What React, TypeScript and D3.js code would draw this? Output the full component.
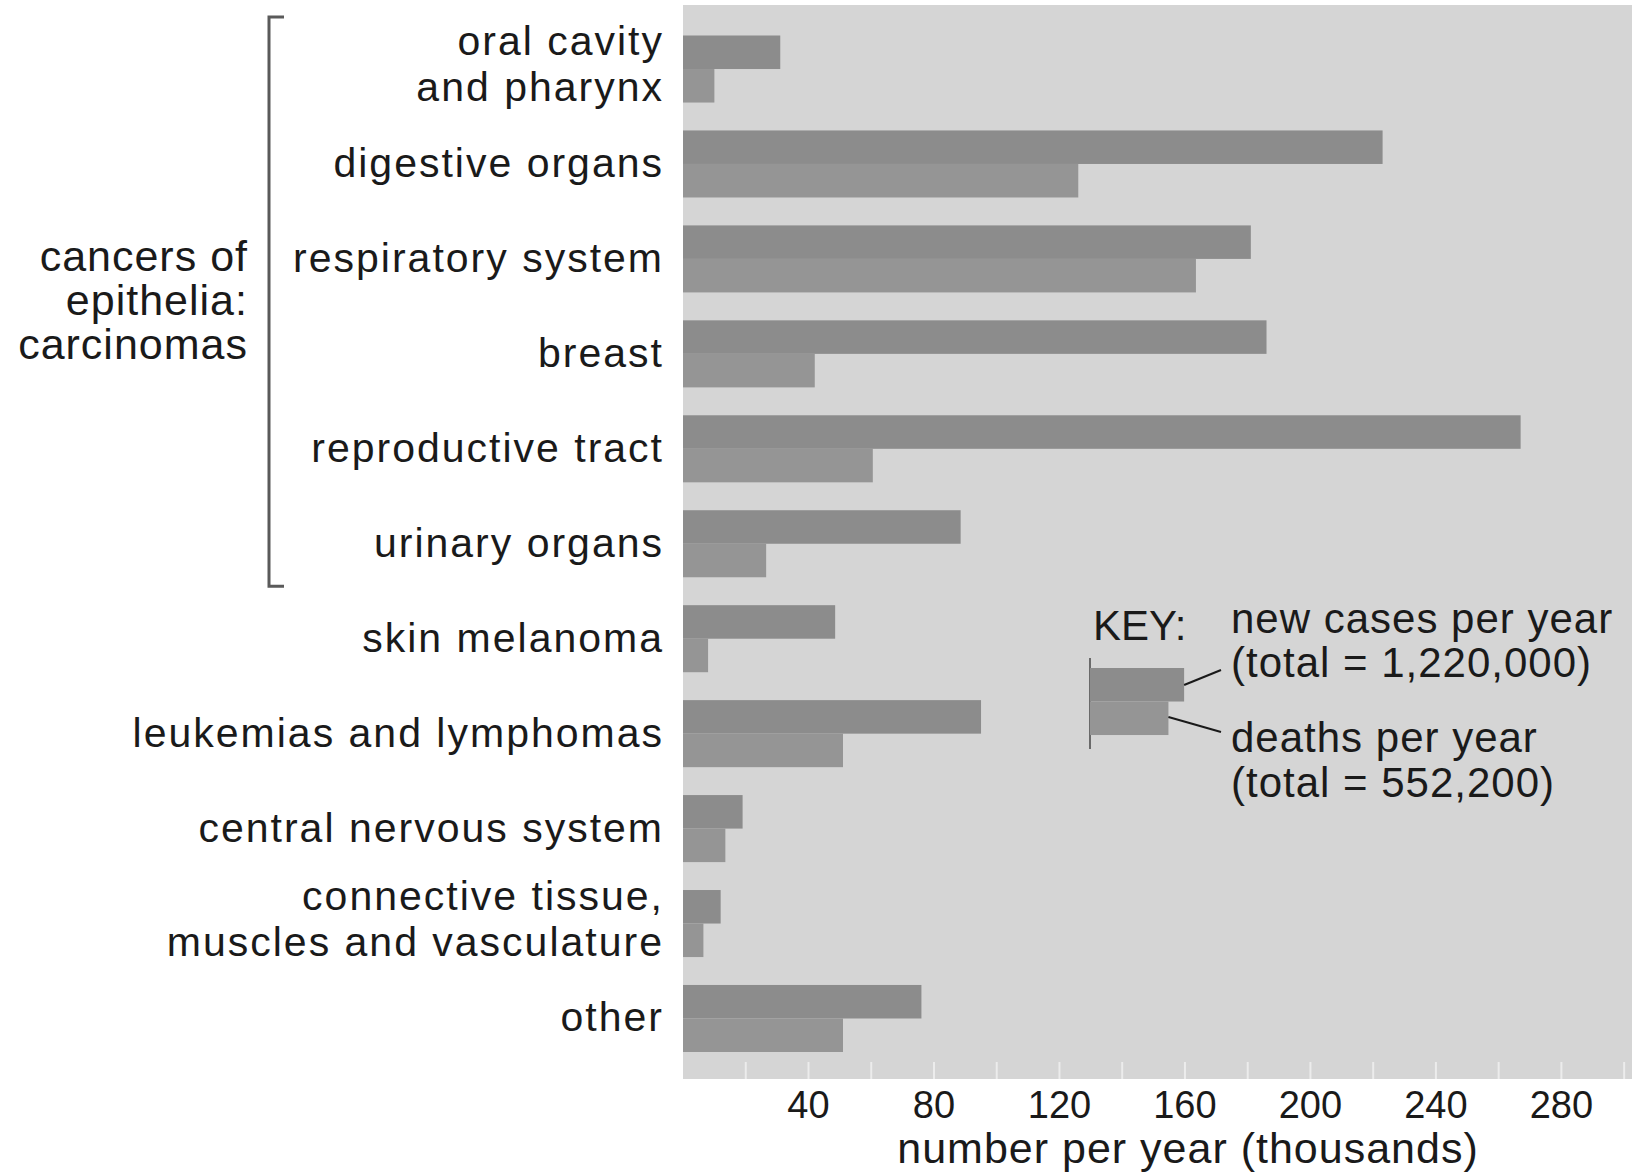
import React from 'react';
import * as d3 from 'd3';

// categories, top to bottom
const categories = [
  'oral cavity\nand pharynx',
  'digestive organs',
  'respiratory system',
  'breast',
  'reproductive tract',
  'urinary organs',
  'skin melanoma',
  'leukemias and lymphomas',
  'central nervous system',
  'connective tissue,\nmuscles and vasculature',
  'other',
];

// thousands per year
const newCases = [31, 223, 181, 186, 267, 88.5, 48.5, 95, 19, 12, 76];
const deaths = [10, 126, 163.5, 42, 60.5, 26.5, 8, 51, 13.5, 6.5, 51];

const seriesKeys = ['new', 'deaths'];
const tickValues = [40, 80, 120, 160, 200, 240, 280];
const minorTicks = [20, 40, 60, 80, 100, 120, 140, 160, 180, 200, 220, 240, 260, 280, 300];

const groupLabel = ['cancers of', 'epithelia:', 'carcinomas'];
const legendLines = ['new cases per year', '(total = 1,220,000)', 'deaths per year', '(total = 552,200)'];

const W = 1632, H = 1176;
const FONT = '"Liberation Sans", Arial, sans-serif';
const INK = '#1a1a1a';

export default function App() {
  const panel = { left: 683, top: 5, right: W, bottom: 1079 };

  const x = d3.scaleLinear().domain([0, 302.5]).range([panel.left, panel.right]);
  const y = d3.scaleBand().domain(categories).range([35.5, 1052]).paddingInner(0.294).paddingOuter(0);
  const sub = d3.scaleBand().domain(seriesKeys).range([0, y.bandwidth()]);
  const fill = d3.scaleOrdinal().domain(seriesKeys).range(['#8c8c8c', '#959595']);

  const rows = categories.map((c, i) => ({ cat: c, new: newCases[i], deaths: deaths[i] }));

  // bracket spans the six carcinoma rows
  const bTop = (y(categories[0]) as number) - 18.5;
  const bBot = (y(categories[5]) as number) + y.bandwidth() + 9;
  const bMid = (bTop + bBot) / 2;

  const legX = 1090;
  const legTop = 668;

  return (
    <svg width={W} height={H} style={{ position: 'absolute', left: 0, top: 0, background: '#fff' }}
      fontFamily={FONT}>
      <rect x={panel.left} y={panel.top} width={panel.right - panel.left} height={panel.bottom - panel.top} fill="#d5d5d5" />

      {/* minor ticks at the foot of the panel */}
      {minorTicks.map(t => (
        <line key={t} x1={x(t)} x2={x(t)} y1={panel.bottom - 17} y2={panel.bottom} stroke="#ececec" strokeWidth={2} />
      ))}

      {/* bars */}
      {rows.map(r => (
        <g key={r.cat} transform={`translate(0,${y(r.cat)})`}>
          {seriesKeys.map(k => (
            <rect key={k} x={x(0)} y={sub(k)} width={x((r as any)[k]) - x(0)} height={sub.bandwidth()}
              fill={fill(k) as string} />
          ))}
        </g>
      ))}

      {/* category labels */}
      {categories.map(c => {
        const lines = c.split('\n');
        const cy = (y(c) as number) + y.bandwidth() / 2;
        const off = lines.length > 1 ? 9 : 13;
        return (
          <text key={c} x={664} textAnchor="end" fontSize={41} letterSpacing={2} fill={INK}>
            {lines.map((l, i) => (
              <tspan key={i} x={664} y={cy + off + (i - (lines.length - 1) / 2) * 46}>{l}</tspan>
            ))}
          </text>
        );
      })}

      {/* bracket + group label */}
      <path d={`M284,${bTop}H269V${bBot}H284`} fill="none" stroke="#5a5a5a" strokeWidth={3} />
      <text textAnchor="end" fontSize={43} letterSpacing={1} fill={INK}>
        {groupLabel.map((l, i) => (
          <tspan key={i} x={248} y={bMid + 13 + (i - 1) * 44}>{l}</tspan>
        ))}
      </text>

      {/* x axis labels */}
      {tickValues.map(t => (
        <text key={t} x={x(t)} y={1118} textAnchor="middle" fontSize={38} fill={INK}>{t}</text>
      ))}
      <text x={1188} y={1163} textAnchor="middle" fontSize={43} letterSpacing={1} fill={INK}>
        number per year (thousands)
      </text>

      {/* key */}
      <text x={1093} y={640} fontSize={42} fill={INK}>KEY:</text>
      <line x1={legX} x2={legX} y1={658} y2={749} stroke="#6a6a6a" strokeWidth={2} />
      <rect x={legX} y={legTop} width={x(30) - x(0)} height={sub.bandwidth()} fill={fill('new') as string} />
      <rect x={legX} y={legTop + sub.bandwidth()} width={x(25) - x(0)} height={sub.bandwidth()} fill={fill('deaths') as string} />
      <line x1={legX + x(30) - x(0)} y1={685} x2={1221} y2={670} stroke={INK} strokeWidth={2} />
      <line x1={legX + x(25) - x(0)} y1={717} x2={1221} y2={732} stroke={INK} strokeWidth={2} />
      {legendLines.map((l, i) => (
        <text key={l} x={1231} y={[633, 677, 752, 797][i]} fontSize={42} letterSpacing={1} fill={INK}>{l}</text>
      ))}
    </svg>
  );
}
